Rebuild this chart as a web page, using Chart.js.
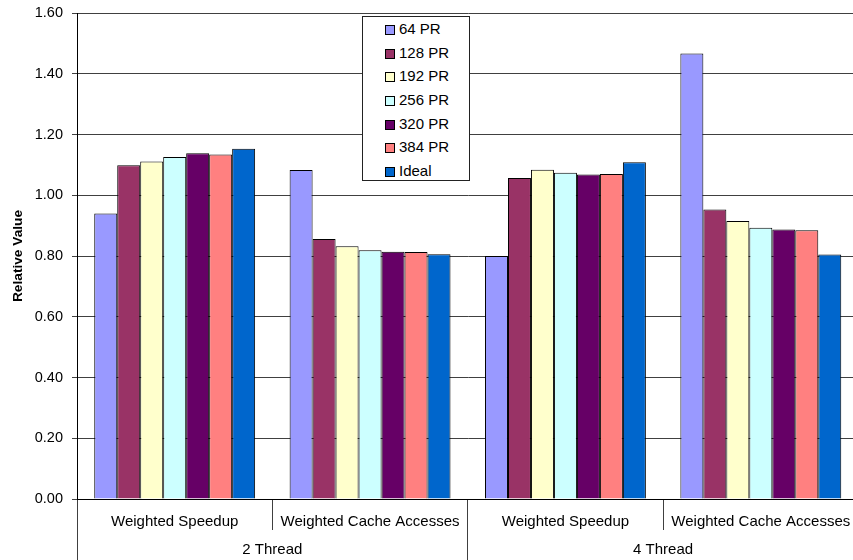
<!DOCTYPE html>
<html>
<head>
<meta charset="utf-8">
<title>Relative Value</title>
<script src="https://cdn.jsdelivr.net/npm/chart.js@4.4.1/dist/chart.umd.min.js"></script>
<style>
    html, body {
        margin: 0;
        padding: 0;
        background: #fff;
        overflow: hidden;
    }
    #wrap {
        position: relative;
        width: 860px;
        height: 560px;
    }
    #legend {
        position: absolute;
        left: 362px;
        top: 16px;
        width: 108px;
        height: 165px;
        border: 1px solid #222;
        background: #fff;
        box-sizing: border-box;
        font-family: 'Liberation Sans', Arial, sans-serif;
        font-size: 15px;
        color: #000;
    }
    #legend .item {
        height: 23.7px;
        line-height: 23.7px;
        white-space: nowrap;
    }
    #legend .swatch {
        display: inline-block;
        width: 8px;
        height: 8px;
        border: 1px solid #000;
        margin-left: 22px;
        margin-right: 4px;
        vertical-align: -1px;
    }
</style>
</head>
<body>
<div id="wrap">
    <canvas id="chart" width="860" height="560"></canvas>
    <div id="legend"></div>
</div>
<script>
const categories = ['Weighted Speedup', 'Weighted Cache Accesses', 'Weighted Speedup', 'Weighted Cache Accesses'];
const groups = ['2 Thread', '4 Thread'];
const seriesNames = ['64 PR', '128 PR', '192 PR', '256 PR', '320 PR', '384 PR', 'Ideal'];

const pr64 = [0.940, 1.083, 0.800, 1.467];
const pr128 = [1.099, 0.856, 1.057, 0.953];
const pr192 = [1.111, 0.832, 1.084, 0.915];
const pr256 = [1.126, 0.819, 1.074, 0.893];
const pr320 = [1.138, 0.814, 1.068, 0.887];
const pr384 = [1.134, 0.813, 1.070, 0.885];
const ideal = [1.153, 0.806, 1.109, 0.805];

const yMin = 0;
const yMax = 1.6;
const yStep = 0.2;

const colors = ['#9999FF', '#993366', '#FFFFCC', '#CCFFFF', '#660066', '#FF8080', '#0066CC'];
const FONT = "'Liberation Sans', Arial, sans-serif";
const LINE = '#404040';

const seriesValues = [pr64, pr128, pr192, pr256, pr320, pr384, ideal];

// HTML legend built from the chart's datasets
const htmlLegend = {
    id: 'htmlLegend',
    afterUpdate(chart) {
        const box = document.getElementById('legend');
        box.innerHTML = '';
        chart.data.datasets.forEach(ds => {
            const row = document.createElement('div');
            row.className = 'item';
            const sw = document.createElement('span');
            sw.className = 'swatch';
            sw.style.background = ds.backgroundColor;
            row.appendChild(sw);
            row.appendChild(document.createTextNode(ds.label));
            box.appendChild(row);
        });
    }
};

const ctx = document.getElementById('chart').getContext('2d');
new Chart(ctx, {
    type: 'bar',
    data: {
        labels: categories,
        datasets: seriesNames.map((name, i) => ({
            label: name,
            data: seriesValues[i],
            backgroundColor: colors[i],
            borderColor: '#000',
            borderWidth: 1,
            categoryPercentage: 7 / 8.5,
            barPercentage: 1
        }))
    },
    options: {
        responsive: false,
        animation: false,
        devicePixelRatio: 1,
        layout: {
            padding: { top: 13, right: 1.5, bottom: 0, left: 0 }
        },
        plugins: {
            legend: { display: false },
            tooltip: { enabled: false }
        },
        scales: {
            x: {
                type: 'category',
                position: 'bottom',
                offset: true,
                afterFit: s => { s.height = 31; },
                grid: {
                    offset: true,
                    drawOnChartArea: false,
                    tickLength: 31,
                    color: LINE,
                    lineWidth: 1
                },
                border: { display: true, color: '#000', width: 1 },
                ticks: {
                    autoSkip: false,
                    maxRotation: 0,
                    minRotation: 0,
                    padding: -17,
                    color: '#000',
                    font: { family: FONT, size: 15 }
                }
            },
            x2: {
                type: 'category',
                position: 'bottom',
                labels: groups,
                offset: true,
                afterFit: s => { s.height = 30; },
                grid: {
                    offset: true,
                    drawOnChartArea: false,
                    tickLength: 30,
                    color: LINE,
                    lineWidth: 1
                },
                border: { display: false },
                ticks: {
                    autoSkip: false,
                    maxRotation: 0,
                    padding: -19,
                    color: '#000',
                    font: { family: FONT, size: 15 }
                }
            },
            y: {
                min: yMin,
                max: yMax,
                afterFit: s => {
                    s.width = 77;
                    s.paddingTop = 0;
                    s.paddingBottom = 0;
                },
                grid: {
                    color: LINE,
                    lineWidth: 1,
                    tickLength: 5
                },
                border: { display: true, color: '#000', width: 1 },
                ticks: {
                    stepSize: yStep,
                    padding: 9,
                    color: '#000',
                    font: { family: FONT, size: 14.5 },
                    callback: v => Number(v).toFixed(2)
                },
                title: {
                    display: true,
                    text: 'Relative Value',
                    color: '#000',
                    padding: { top: 10, bottom: 0 },
                    font: { family: FONT, size: 13.7, weight: 'bold' }
                }
            }
        }
    },
    plugins: [htmlLegend]
});
</script>
</body>
</html>
